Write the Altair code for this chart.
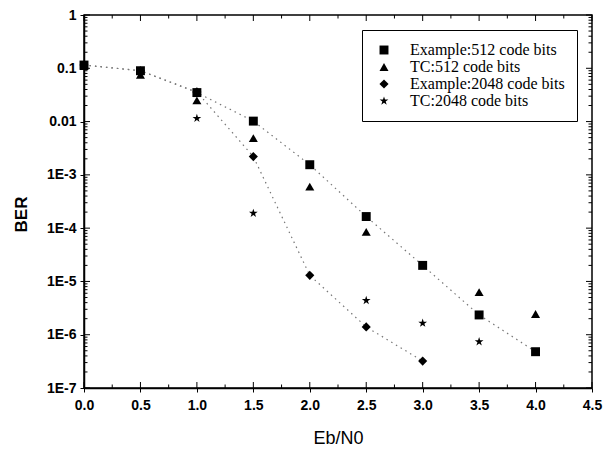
import altair as alt
import pandas as pd

# ---- data ----
ex512_x = [0.0, 0.5, 1.0, 1.5, 2.0, 2.5, 3.0, 3.5, 4.0]
ex512_y = [0.115, 0.09, 0.035, 0.0102, 0.00155, 1.65e-4, 2.0e-5, 2.35e-6, 4.8e-7]
tc512_x = [0.0, 0.5, 1.0, 1.5, 2.0, 2.5, 3.5, 4.0]
tc512_y = [0.11, 0.075, 0.025, 0.0049, 6.0e-4, 8.5e-5, 6.3e-6, 2.45e-6]
ex2048_x = [0.0, 0.5, 1.0, 1.5, 2.0, 2.5, 3.0]
ex2048_y = [0.115, 0.09, 0.036, 2.2e-3, 1.3e-5, 1.4e-6, 3.2e-7]
tc2048_x = [1.0, 1.5, 2.5, 3.0, 3.5]
tc2048_y = [0.0115, 1.9e-4, 4.4e-6, 1.65e-6, 7.4e-7]

series_names = ["Example:512 code bits", "TC:512 code bits",
                "Example:2048 code bits", "TC:2048 code bits"]
line_series = ["Example:512 code bits", "Example:2048 code bits"]

y_decades = [1, 0.1, 0.01, 0.001, 1e-4, 1e-5, 1e-6, 1e-7]
y_labels = ["1", "0.1", "0.01", "1E-3", "1E-4", "1E-5", "1E-6", "1E-7"]
x_major = [0.0, 0.5, 1.0, 1.5, 2.0, 2.5, 3.0, 3.5, 4.0, 4.5]
x_minor = [0.25, 0.75, 1.25, 1.75, 2.25, 2.75, 3.25, 3.75, 4.25]

rows = []
for name, xs, ys in zip(series_names,
                        [ex512_x, tc512_x, ex2048_x, tc2048_x],
                        [ex512_y, tc512_y, ex2048_y, tc2048_y]):
    for a, b in zip(xs, ys):
        rows.append({"x": a, "ber": b, "series": name})
df = pd.DataFrame(rows)
df_lines = df[df["series"].isin(line_series)]

y_minor = [m * d for d in y_decades[1:] for m in range(2, 10)]

star = ("M0,-1L0.2245,-0.309L0.951,-0.309L0.363,0.118L0.588,0.809L0,0.382"
        "L-0.588,0.809L-0.363,0.118L-0.951,-0.309L-0.2245,-0.309Z")

W, H = 508, 373
xdom = [0, 4.5]
ydom = [1e-7, 1]

lab_expr = "''"
for d, l in zip(reversed(y_decades), reversed(y_labels)):
    lab_expr = f"(abs(datum.value - {d}) < {d}*1e-6 ? '{l}' : {lab_expr})"

FONT = "Liberation Sans"
xs = alt.Scale(domain=xdom, nice=False, zero=False)
ys = alt.Scale(type="log", domain=ydom, nice=False)

yt_major = pd.DataFrame({"ber": y_decades})
yt_minor = pd.DataFrame({"ber": y_minor})
xt_major = pd.DataFrame({"x": x_major})
xt_minor = pd.DataFrame({"x": x_minor})

MAJ, MIN = 6, 3.5


def yticks(data, center, length):
    return alt.Chart(data).mark_tick(
        color="black", thickness=1, size=length, opacity=1
    ).encode(y=alt.Y("ber:Q", scale=ys), x=alt.value(center))


def xticks(data, center, length):
    return alt.Chart(data).mark_tick(
        color="black", thickness=1, size=length, opacity=1
    ).encode(x=alt.X("x:Q", scale=xs), y=alt.value(center))


tick_layers = [
    yticks(yt_major, MAJ / 2, MAJ), yticks(yt_minor, MIN / 2, MIN),
    yticks(yt_major, W - MAJ / 2, MAJ), yticks(yt_minor, W - MIN / 2, MIN),
    xticks(xt_major, H - MAJ / 2, MAJ), xticks(xt_minor, H - MIN / 2, MIN),
    xticks(xt_major, MAJ / 2, MAJ), xticks(xt_minor, MIN / 2, MIN),
]

lines = alt.Chart(df_lines).mark_line(
    strokeDash=[1.5, 4], color="#777777", strokeWidth=1.2
).encode(
    x=alt.X("x:Q", scale=xs),
    y=alt.Y("ber:Q", scale=ys),
    detail="series:N",
)

points = alt.Chart(df).mark_point(filled=True, opacity=1, color="black").encode(
    x=alt.X("x:Q", scale=xs, axis=alt.Axis(
        orient="bottom", title="Eb/N0", values=x_major, format=".1f",
        labelFont=FONT, labelFontSize=14, labelFontWeight="bold",
        labelColor="black", labelPadding=6, labelFlush=False,
        titleFont=FONT, titleFontSize=18, titleFontWeight="normal",
        titleColor="black", titleX=W / 2, titleY=55,
        titleBaseline="alphabetic", titleAlign="center",
        domain=True, domainColor="black", domainWidth=1.5, grid=False,
        tickColor="black", tickSize=4,
    )),
    y=alt.Y("ber:Q", scale=ys, axis=alt.Axis(
        orient="left", title="BER", values=y_decades, labelExpr=lab_expr,
        labelFont=FONT, labelFontSize=14, labelFontWeight="bold",
        labelColor="black", labelPadding=4, labelOverlap=False,
        titleFont=FONT, titleFontSize=17, titleFontWeight="bold",
        titleColor="black", titleX=-63, titleY=199, titleAngle=270,
        titleBaseline="middle", titleAlign="center",
        domain=True, domainColor="black", domainWidth=1.5, grid=False,
        tickColor="black", tickSize=4,
    )),
    shape=alt.Shape("series:N", scale=alt.Scale(
        domain=series_names,
        range=["square", "triangle-up", "diamond", star]),
        legend=alt.Legend(title=None)),
    size=alt.Size("series:N", scale=alt.Scale(
        domain=series_names, range=[80, 85, 110, 55]),
        legend=alt.Legend(title=None)),
)

chart = alt.layer(*tick_layers, lines, points).properties(
    width=W, height=H,
    padding={"left": 76, "top": 7, "right": 12, "bottom": 60},
    autosize="none",
).configure_view(stroke="black", strokeWidth=1.5).configure_legend(
    orient="none", legendX=278, legendY=15,
    strokeColor="black", fillColor="white", padding=12,
    labelFont="Liberation Serif", labelFontSize=16, labelColor="black",
    labelOffset=18, rowPadding=1, symbolFillColor="black",
    symbolStrokeColor="black", symbolOffset=2,
)

chart.save("out.html", embed_options={"renderer": "svg", "actions": False})
